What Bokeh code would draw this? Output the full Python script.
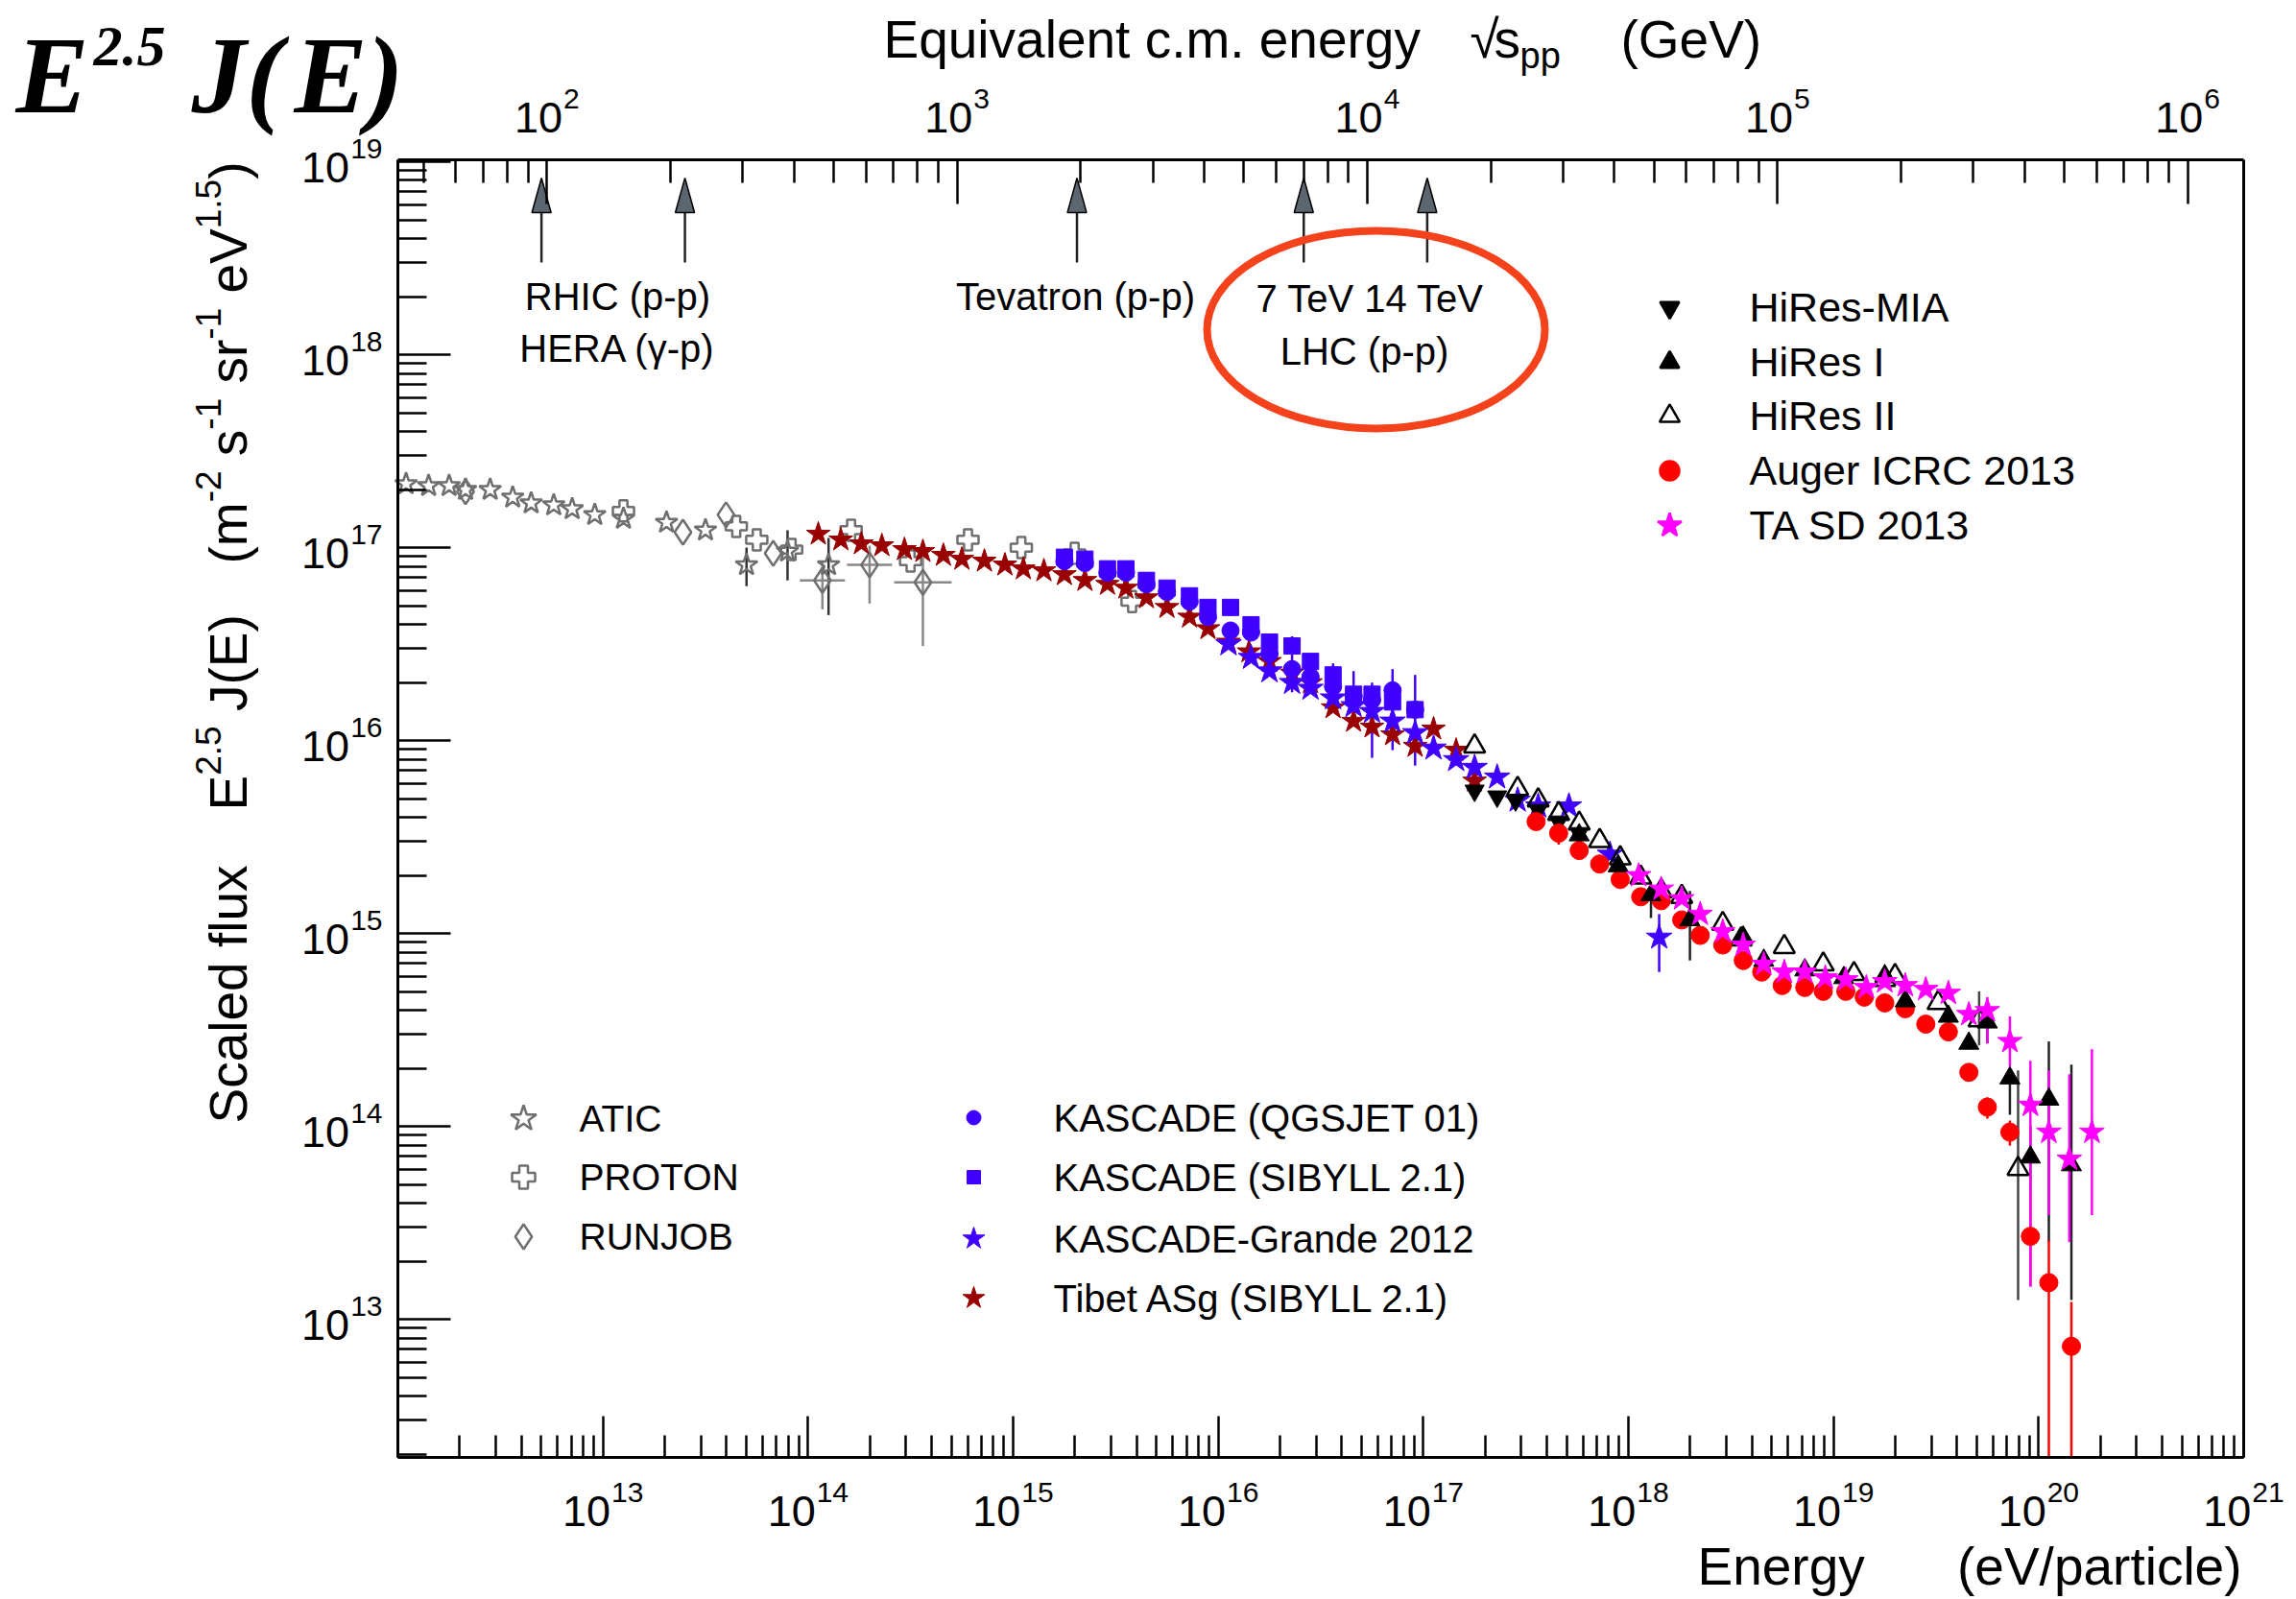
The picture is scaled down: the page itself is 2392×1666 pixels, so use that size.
import math
from bokeh.plotting import figure
from bokeh.models import FixedTicker, LogAxis, Label, Range1d
from bokeh.embed import file_html
from bokeh.resources import INLINE

# ---------------- data: log10(E / eV) and log10(E^2.5 J(E)) ----------------
atic_logE = [12.04, 12.15, 12.25, 12.33, 12.45, 12.56, 12.65, 12.76, 12.85, 12.96, 13.10, 13.31, 13.50, 13.70, 13.90, 14.10]
atic_logF = [17.33, 17.32, 17.32, 17.30, 17.30, 17.26, 17.23, 17.22, 17.20, 17.17, 17.15, 17.13, 17.09, 16.91, 16.98, 16.91]
atic_err_logE = [13.70, 13.90, 14.10]
atic_err_lo = [16.80, 16.83, 16.65]
atic_err_hi = [17.00, 17.09, 17.05]

proton_logE = [13.10, 13.65, 13.75, 13.92, 14.21, 14.50, 14.78, 15.04, 15.30, 15.58]
proton_logF = [17.19, 17.11, 17.04, 16.99, 17.09, 16.93, 17.04, 17.00, 16.97, 16.72]

runjob_logE = [12.33, 13.39, 13.60, 13.83, 14.07, 14.30, 14.56]
runjob_logF = [17.29, 17.08, 17.17, 16.97, 16.83, 16.91, 16.82]
runjob_err_logE = [14.07, 14.30, 14.56]
runjob_err_logF = [16.83, 16.91, 16.82]
runjob_xlo = [13.96, 14.19, 14.42]
runjob_xhi = [14.18, 14.41, 14.70]
runjob_ylo = [16.68, 16.71, 16.49]
runjob_yhi = [16.93, 17.01, 16.95]

tibet_logE = [14.05, 14.16, 14.26, 14.36, 14.47, 14.56, 14.66, 14.75, 14.86, 14.96, 15.05, 15.15, 15.25, 15.35, 15.46, 15.55, 15.65,
              15.75, 15.86, 15.95, 16.05, 16.15, 16.25, 16.36, 16.45, 16.56, 16.66, 16.75, 16.85, 16.96, 17.05, 17.16, 17.25]
tibet_logF = [17.07, 17.04, 17.02, 17.01, 16.99, 16.98, 16.96, 16.94, 16.93, 16.91, 16.89, 16.88, 16.86, 16.83, 16.81, 16.79, 16.74,
              16.69, 16.64, 16.58, 16.51, 16.46, 16.41, 16.35, 16.30, 16.17, 16.10, 16.07, 16.03, 15.97, 16.06, 15.95, 15.79]

kq_logE = [15.25, 15.35, 15.46, 15.55, 15.65, 15.75, 15.86, 15.95, 16.06, 16.16, 16.25, 16.36, 16.45, 16.56, 16.66, 16.75, 16.85, 16.96]
kq_logF = [16.93, 16.92, 16.87, 16.87, 16.81, 16.77, 16.72, 16.64, 16.57, 16.56, 16.45, 16.37, 16.33, 16.28, 16.23, 16.21, 16.26, 16.16]
kq_err_logE = [16.36, 16.56, 16.66, 16.85, 16.96]
kq_err_lo = [16.25, 16.20, 16.10, 15.95, 15.87]
kq_err_hi = [16.54, 16.40, 16.36, 16.37, 16.34]

ks_logE = [15.25, 15.35, 15.46, 15.55, 15.65, 15.75, 15.86, 15.95, 16.06, 16.16, 16.25, 16.36, 16.45, 16.56, 16.66, 16.75, 16.85, 16.96]
ks_logF = [16.95, 16.94, 16.89, 16.89, 16.83, 16.79, 16.75, 16.69, 16.69, 16.60, 16.51, 16.49, 16.41, 16.34, 16.24, 16.24, 16.20, 16.16]

grande_logE = [16.05, 16.16, 16.25, 16.36, 16.45, 16.56, 16.66, 16.75, 16.85, 16.96, 17.05, 17.16, 17.25, 17.36, 17.46, 17.56, 17.71, 17.91, 18.15]
grande_logF = [16.50, 16.43, 16.36, 16.30, 16.27, 16.22, 16.18, 16.15, 16.10, 16.04, 15.96, 15.90, 15.86, 15.81, 15.69, 15.66, 15.66, 15.41, 14.98]
grande_err_logE = [16.75, 18.15]
grande_err_lo = [15.91, 14.80]
grande_err_hi = [16.30, 15.10]

hmia_logE = [17.25, 17.36, 17.45, 17.56, 17.66, 17.76]
hmia_logF = [15.74, 15.71, 15.69, 15.64, 15.58, 15.52]

hires1_logE = [17.76, 17.95, 18.11, 18.30, 18.56, 18.66, 18.86, 19.05, 19.25, 19.35, 19.56, 19.66, 19.75, 19.86, 19.96, 20.05, 20.16]
hires1_logF = [15.51, 15.35, 15.20, 15.07, 14.98, 14.86, 14.81, 14.77, 14.78, 14.65, 14.57, 14.43, 14.54, 14.25, 13.84, 14.14, 13.80]
hires1_err_logE = [18.11, 18.30, 19.75, 19.86, 19.96, 20.05, 20.16]
hires1_err_lo = [15.08, 14.86, 14.43, 14.06, 13.65, 13.40, 13.10]
hires1_err_hi = [15.23, 15.22, 14.62, 14.28, 14.00, 14.44, 14.32]

hires2_logE = [17.25, 17.46, 17.56, 17.66, 17.76, 17.86, 17.96, 18.06, 18.16, 18.26, 18.46, 18.55, 18.76, 18.95, 19.10, 19.25, 19.30, 19.51, 19.71, 19.90]
hires2_logF = [15.97, 15.75, 15.69, 15.62, 15.57, 15.48, 15.39, 15.29, 15.22, 15.19, 15.05, 14.97, 14.93, 14.84, 14.79, 14.76, 14.78, 14.64, 14.55, 13.78]
hires2_err_logE = [19.71, 19.90]
hires2_err_lo = [14.42, 13.10]
hires2_err_hi = [14.70, 14.29]

auger_logE = [17.55, 17.66, 17.76, 17.86, 17.96, 18.06, 18.16, 18.26, 18.35, 18.46, 18.56, 18.65, 18.75, 18.86, 18.95, 19.06, 19.15,
              19.25, 19.35, 19.45, 19.56, 19.66, 19.75, 19.86, 19.96, 20.05, 20.16]
auger_logF = [15.58, 15.52, 15.43, 15.36, 15.28, 15.19, 15.17, 15.07, 14.99, 14.94, 14.86, 14.80, 14.73, 14.72, 14.70, 14.70, 14.67,
              14.64, 14.61, 14.53, 14.49, 14.28, 14.10, 13.97, 13.43, 13.19, 12.86]
auger_err_logE = [17.66, 19.75, 19.86, 19.96, 20.05, 20.16]
auger_err_lo = [15.46, 14.04, 13.90, 13.17, 12.00, 12.00]
auger_err_hi = [15.58, 14.15, 14.03, 13.65, 13.41, 13.09]

ta_logE = [18.05, 18.16, 18.26, 18.35, 18.46, 18.56, 18.66, 18.76, 18.86, 18.96, 19.06, 19.16, 19.25, 19.35, 19.45, 19.56, 19.66,
           19.75, 19.86, 19.96, 20.05, 20.15, 20.26]
ta_logF = [15.30, 15.23, 15.18, 15.10, 15.01, 14.94, 14.84, 14.80, 14.80, 14.77, 14.76, 14.72, 14.75, 14.73, 14.71, 14.69, 14.58,
           14.60, 14.44, 14.11, 13.97, 13.83, 13.97]
ta_err_logE = [19.75, 19.86, 19.96, 20.05, 20.15, 20.26]
ta_err_lo = [14.43, 14.31, 13.17, 13.54, 13.40, 13.54]
ta_err_hi = [14.67, 14.57, 14.34, 14.29, 14.27, 14.40]

# accelerator energies, sqrt(s) in GeV
arrow_sqrts = [97.0, 217.0, 1960.0, 7000.0, 14000.0]
ellipse_sqrts = 10500.0
ellipse_logF = 18.13

bottom_tick_exps = list(range(13, 22))
left_tick_exps = list(range(13, 20))
top_tick_exps = list(range(2, 7))

# ---------------- geometry ----------------
W, H = 2392, 1666
FL, FR, FT, FB = 414, 2337, 166, 1518          # plot box in canvas pixels
LX0, LX1 = 12.0, 21.0                          # log10 energy at box edges
LY0, LY1 = 12.284, 19.01                       # log10 flux at box edges
XDEC = (FR - FL) / (LX1 - LX0)
YDEC = (FB - FT) / (LY1 - LY0)
MP2 = 2 * 0.938  # GeV


def sqrts_to_E(rs):
    return rs ** 2 / MP2 * 1e9


def X(px):
    return 10 ** (LX0 + (px - FL) / XDEC)


def Y(py):
    return 10 ** (LY1 - (py - FT) / YDEC)


def P(vals, lo=None):
    if lo is None:
        return [10 ** v for v in vals]
    return [10 ** max(v, lo) for v in vals]


def inside(vals, l0, l1):
    return [v for v in vals if 10 ** l0 <= v <= 10 ** l1 * 1.0000001]


AW = {c: 556 for c in "0123456789"}
AW.update({' ': 278, '(': 333, ')': 333, '-': 333, '.': 278, '/': 278, 'γ': 500, '√': 549})
AW.update(dict(a=556, b=556, c=500, d=556, e=556, f=278, g=556, h=556, i=222, j=222, k=500, l=222, m=833, n=556, o=556,
               p=556, q=556, r=333, s=500, t=278, u=556, v=500, w=722, x=500, y=500, z=500))
AW.update(dict(A=667, B=667, C=722, D=722, E=667, F=611, G=778, H=722, I=278, J=500, K=667, L=556, M=833, N=722, O=778,
               P=667, Q=778, R=722, S=667, T=611, U=722, V=667, W=944, X=667, Y=667, Z=611))


def tw(s, size):
    return sum(AW.get(c, 556) for c in s) * size / 1000.0


# the frame covers the whole canvas; the axes are pinned to the plot box
p = figure(width=W, height=H, x_axis_type="log", y_axis_type="log",
           x_range=Range1d(X(0), X(W)), y_range=Range1d(Y(H), Y(0)),
           toolbar_location=None, output_backend="svg",
           min_border_left=0, min_border_right=0, min_border_top=0, min_border_bottom=0)
p.title.visible = False
p.background_fill_color = "white"
p.border_fill_color = "white"
p.grid.visible = False
p.outline_line_color = None


def style_axis(ax, maj, mnr):
    ax.major_tick_in = maj
    ax.major_tick_out = 0
    ax.minor_tick_in = mnr
    ax.minor_tick_out = 0
    ax.major_label_text_font_size = "10px"
    ax.major_label_text_color = None
    ax.axis_line_width = 3
    ax.axis_line_color = "black"
    ax.major_tick_line_width = 2.5
    ax.minor_tick_line_width = 2.5
    ax.major_tick_line_color = "black"
    ax.minor_tick_line_color = "black"


xa = p.below[0]
xa.ticker = FixedTicker(ticks=inside([10.0 ** k for k in range(12, 22)], LX0, LX1),
                        minor_ticks=inside([m * 10.0 ** k for k in range(12, 21) for m in range(2, 10)], LX0, LX1))
style_axis(xa, 43, 23)
xa.fixed_location = 10 ** LY0
xa.bounds = (10 ** LX0, 10 ** LX1)

ya = p.left[0]
ya.ticker = FixedTicker(ticks=inside([10.0 ** k for k in range(12, 20)], LY0, LY1),
                        minor_ticks=inside([m * 10.0 ** k for k in range(12, 19) for m in range(2, 10)], LY0, LY1))
style_axis(ya, 55, 30)
ya.fixed_location = 10 ** LX0
ya.bounds = (10 ** LY0, 10 ** LY1)

top = LogAxis(ticker=FixedTicker(
    ticks=inside([sqrts_to_E(10.0 ** k) for k in range(1, 7)], LX0, LX1),
    minor_ticks=inside([sqrts_to_E(m * 10.0 ** k) for k in range(1, 7) for m in range(2, 10)], LX0, LX1)))
style_axis(top, 46, 24)
top.fixed_location = 10 ** LY1
top.bounds = (10 ** LX0, 10 ** LX1)
p.add_layout(top, "above")

right = LogAxis(ticker=FixedTicker(ticks=[], minor_ticks=[]))
style_axis(right, 0, 0)
right.fixed_location = 10 ** LX1
right.bounds = (10 ** LY0, 10 ** LY1)
p.add_layout(right, "right")

FONT = "Liberation Sans"
MID = 0.35  # distance baseline -> text middle, in em


def lab(text, px, pyb, size, align="left", angle=0.0, font=FONT, style="normal", color="black", mid=MID):
    """px: x of anchor; pyb: baseline y (canvas pixels). For rotated text px is the baseline x."""
    if angle == 0.0:
        cx, cy = px, pyb - mid * size
    else:
        cx, cy = px - mid * size, pyb
    p.add_layout(Label(x=X(cx), y=Y(cy), x_units="data", y_units="data",
                       text=text, text_font=font,
                       text_font_size=f"{size}px", text_font_style=style, text_color=color,
                       text_align=align, text_baseline="middle", angle=angle))


def lab_data(text, xd, yd, dx, dy, size, align="left"):
    """dx, dy: offset of the baseline start from the data point, dy positive upwards."""
    p.add_layout(Label(x=xd, y=yd, x_units="data", y_units="data", x_offset=dx, y_offset=dy + MID * size,
                       text=text, text_font=FONT, text_font_size=f"{size}px", text_color="black",
                       text_align=align, text_baseline="middle"))


TS, SS, SUPD = 45, 30, 25
# bottom tick labels
for k in bottom_tick_exps:
    sup = str(k)
    wt = tw("10", TS) + tw(sup, SS) + 1
    lab_data("10", 10.0 ** k, 10 ** LY0, -wt / 2, -72, TS)
    lab_data(sup, 10.0 ** k, 10 ** LY0, -wt / 2 + tw("10", TS) + 1, -72 + SUPD, SS)
# left tick labels
for k in left_tick_exps:
    sup = str(k)
    lab_data(sup, 10 ** LX0, 10.0 ** k, -16, -22 + SUPD, SS, align="right")
    lab_data("10", 10 ** LX0, 10.0 ** k, -16 - tw(sup, SS) - 1, -22, TS, align="right")
# top tick labels
for k in top_tick_exps:
    sup = str(k)
    E = sqrts_to_E(10.0 ** k)
    wt = tw("10", TS) + tw(sup, SS) + 1
    lab_data("10", E, 10 ** LY1, -wt / 2, 28, TS)
    lab_data(sup, E, 10 ** LY1, -wt / 2 + tw("10", TS) + 1, 28 + SUPD, SS)

# axis titles
T = 55
lab("Energy", 1768, 1651, T)
lab("(eV/particle)", 2335, 1651, T, align="right")
lab("Equivalent c.m. energy", 920, 60, T)
lab("√", 1531, 60, T)
lab("s", 1556, 60, T)
lab("pp", 1583, 71, 38)
lab("(GeV)", 1688, 60, T)

# rotated y title (pieces laid out upward; gaps replace leading spaces)
RB, RS, ST = 257, 229, 37
A90 = math.pi / 2
SP = tw(" ", T)
lab("Scaled flux", RB, 1170, T, angle=A90)
pos = 844
for txt, is_sup, gap in [("E", False, 0), ("2.5", True, 0), ("J(E)", False, SP)]:
    pos -= gap
    lab(txt, RS if is_sup else RB, pos, ST if is_sup else T, angle=A90)
    pos -= tw(txt, ST if is_sup else T)
pos = 587
for txt, is_sup, gap in [("(m", False, 0), ("-2", True, 0), ("s", False, SP), ("-1", True, 0), ("sr", False, SP),
                         ("-1", True, 0), ("eV", False, SP), ("1.5", True, 0), (")", False, 0)]:
    pos -= gap
    lab(txt, RS if is_sup else RB, pos, ST if is_sup else T, angle=A90)
    pos -= tw(txt, ST if is_sup else T)

# big corner formula
SERIF = "Liberation Serif"
BI = "bold italic"
lab("E", 16, 117, 114, font=SERIF, style=BI, mid=0.34)
lab("2.5", 97, 68, 60, font=SERIF, style=BI, mid=0.34)
lab("J(", 199, 117, 114, font=SERIF, style=BI, mid=0.34)
lab("E)", 306, 117, 114, font=SERIF, style=BI, mid=0.34)

# accelerator annotations
AS = 40
lab("RHIC (p-p)", 643, 322, AS, align="center")
lab("HERA (γ-p)", 643, 376, AS, align="center")
lab("Tevatron (p-p)", 1120, 322, AS, align="center")
lab("7 TeV 14 TeV", 1427, 324, AS, align="center")
lab("LHC (p-p)", 1421, 379, AS, align="center")

# arrows
arrow_E = [sqrts_to_E(s) for s in arrow_sqrts]
hw = 10 ** (10 / XDEC)
p.segment(x0=arrow_E, y0=[Y(273)] * len(arrow_E), x1=arrow_E, y1=[Y(221)] * len(arrow_E),
          line_color="#222222", line_width=2.5)
p.patches(xs=[[e / hw, e, e * hw] for e in arrow_E], ys=[[Y(221), Y(185), Y(221)] for _ in arrow_E],
          fill_color="#5b6670", line_color="black", line_width=1.5)

# red ellipse
p.ellipse(x=[sqrts_to_E(ellipse_sqrts)], y=[10 ** ellipse_logF], width=352, height=206,
          width_units="screen", height_units="screen", fill_color=None, line_color="#f4431c", line_width=8)

GRAY = "#6f6f6f"
DRED = "#990000"
BLUE = "#4000ff"


def errs(xl, lo, hi, color, w=2.5):
    p.segment(x0=P(xl), y0=P(lo, LY0), x1=P(xl), y1=P(hi), line_color=color, line_width=w)


# error bars
errs(atic_err_logE, atic_err_lo, atic_err_hi, "#333333")
errs(runjob_err_logE, runjob_ylo, runjob_yhi, "#888888")
p.segment(x0=P(runjob_xlo), y0=P(runjob_err_logF), x1=P(runjob_xhi), y1=P(runjob_err_logF),
          line_color="#888888", line_width=2.5)
errs(kq_err_logE, kq_err_lo, kq_err_hi, BLUE)
errs(grande_err_logE, grande_err_lo, grande_err_hi, BLUE)
errs(hires1_err_logE, hires1_err_lo, hires1_err_hi, "#222222")
errs(hires2_err_logE, hires2_err_lo, hires2_err_hi, "#444444")
errs(auger_err_logE, auger_err_lo, auger_err_hi, "red")
errs(ta_err_logE, ta_err_lo, ta_err_hi, "magenta")

# markers
p.scatter(P(atic_logE), P(atic_logF), marker="star", size=24, fill_color=None, line_color=GRAY, line_width=2.5)
p.scatter(P(proton_logE), P(proton_logF), marker="plus", size=22, fill_color=None, line_color=GRAY, line_width=2.5)
p.scatter(P(runjob_logE), P(runjob_logF), marker="diamond", size=26, fill_color=None, line_color=GRAY, line_width=2.5)
p.scatter(P(tibet_logE), P(tibet_logF), marker="star", size=26, fill_color=DRED, line_color=DRED)
p.scatter(P(ks_logE), P(ks_logF), marker="square", size=17, fill_color=BLUE, line_color=BLUE)
p.scatter(P(kq_logE), P(kq_logF), marker="circle", size=18, fill_color=BLUE, line_color=BLUE)
p.scatter(P(grande_logE), P(grande_logF), marker="star", size=28, fill_color=BLUE, line_color=BLUE)
p.scatter(P(hmia_logE), P(hmia_logF), marker="inverted_triangle", size=20, fill_color="black", line_color="black")
p.scatter(P(hires2_logE), P(hires2_logF), marker="triangle", size=22, fill_color=None, line_color="black", line_width=2.5)
p.scatter(P(auger_logE), P(auger_logF), marker="circle", size=19, fill_color="red", line_color="red")
p.scatter(P(hires1_logE), P(hires1_logF), marker="triangle", size=21, fill_color="black", line_color="black")
p.scatter(P(ta_logE), P(ta_logF), marker="star", size=27, fill_color="magenta", line_color="magenta")

# legends (drawn by hand, ROOT style without box)
legend1 = [("HiRes-MIA", "inverted_triangle", "black", "black", 20),
           ("HiRes I", "triangle", "black", "black", 20),
           ("HiRes II", "triangle", None, "black", 21),
           ("Auger ICRC 2013", "circle", "red", "red", 20),
           ("TA SD 2013", "star", "magenta", "magenta", 26)]
legend1_rows = [320, 377, 433, 490, 547]
for (name, mk, fc, lc, sz), py in zip(legend1, legend1_rows):
    p.scatter([X(1739)], [Y(py)], marker=mk, size=sz, fill_color=fc, line_color=lc, line_width=2.5)
    lab(name, 1822, py + 15, 43)

legend2 = [("ATIC", "star", 28), ("PROTON", "plus", 24), ("RUNJOB", "diamond", 26)]
legend2_rows = [1165, 1226, 1288]
for (name, mk, sz), py in zip(legend2, legend2_rows):
    p.scatter([X(545)], [Y(py)], marker=mk, size=sz, fill_color=None, line_color=GRAY, line_width=2.5)
    lab(name, 603, py + 14, 39)

legend3 = [("KASCADE (QGSJET 01)", "circle", BLUE, 15),
           ("KASCADE (SIBYLL 2.1)", "square", BLUE, 14),
           ("KASCADE-Grande 2012", "star", BLUE, 24),
           ("Tibet ASg (SIBYLL 2.1)", "star", DRED, 24)]
legend3_rows = [1164, 1226, 1290, 1352]
for (name, mk, col, sz), py in zip(legend3, legend3_rows):
    p.scatter([X(1014)], [Y(py)], marker=mk, size=sz, fill_color=col, line_color=col)
    lab(name, 1097, py + 14, 40)

open("out.html", "w").write(file_html(p, INLINE))
